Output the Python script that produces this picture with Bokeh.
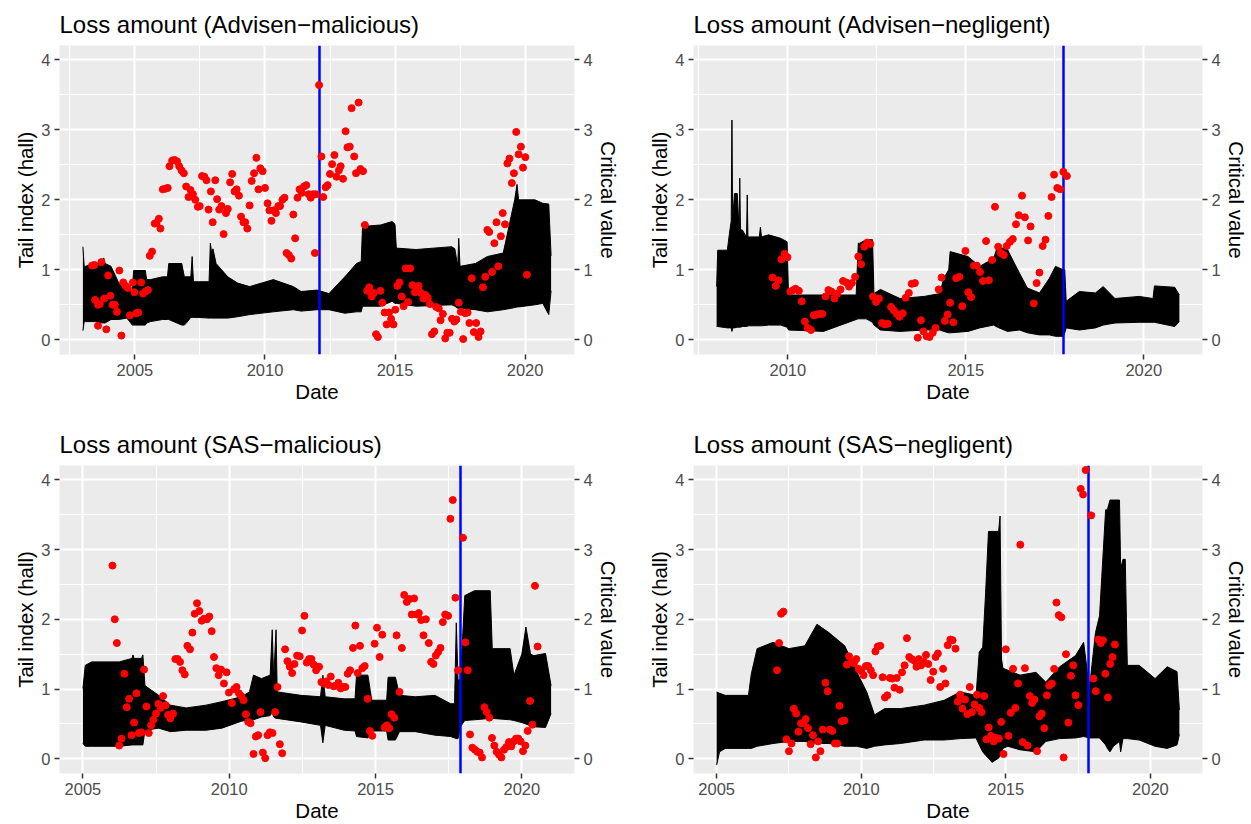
from bokeh.plotting import figure
from bokeh.models import Range1d, FixedTicker, LinearAxis
from bokeh.layouts import column, row
from bokeh.embed import file_html
from bokeh.resources import INLINE

FONT = "Liberation Sans"

titles = ["Loss amount (Advisen\u2212malicious)", "Loss amount (Advisen\u2212negligent)",
          "Loss amount (SAS\u2212malicious)", "Loss amount (SAS\u2212negligent)"]
x_label = "Date"
y_label = "Tail index (hall)"
y2_label = "Critical value"

y_ticks = [0, 1, 2, 3, 4]
y_minor = [0.5, 1.5, 2.5, 3.5]
x_ticks = [2005, 2010, 2015, 2020]
x_minor = [2002.5, 2007.5, 2012.5, 2017.5]

# change points (blue lines)
break_dates = [2012.09, 2017.74, 2017.91, 2017.85]

# ---------------- Panel 1: Advisen-malicious ----------------
band1_date = [2003.0, 2003.05, 2003.1, 2003.47, 2003.75, 2003.8, 2003.85, 2004.08, 2004.38, 2004.69,
              2004.9, 2004.95, 2005.4, 2005.45, 2005.6, 2006.06, 2006.25, 2006.3, 2006.8, 2006.9,
              2007.0, 2007.15, 2007.2, 2007.25, 2007.43, 2007.85, 2007.9, 2007.95, 2008.0, 2008.12,
              2008.57, 2008.95, 2009.41, 2010.32, 2011.09, 2011.39, 2012.0, 2012.46, 2013.07, 2013.52,
              2013.7, 2013.75, 2014.44, 2014.89, 2015.0, 2015.05, 2015.81, 2017.18, 2017.3, 2017.41,
              2017.45, 2017.5, 2018.09, 2018.55, 2019.16, 2019.46, 2019.6, 2019.69, 2019.75, 2020.38,
              2020.68, 2020.91, 2021.0]
band1_high = [1.33, 1.05, 1.05, 1.09, 1.09, 1.17, 1.09, 1.05, 0.81, 0.71,
              0.71, 0.99, 0.99, 0.86, 0.86, 0.90, 0.90, 1.09, 1.09, 0.90,
              0.90, 0.90, 1.19, 0.83, 0.83, 0.83, 1.38, 1.24, 1.30, 1.09,
              0.90, 0.81, 0.76, 0.86, 0.76, 0.69, 0.71, 0.66, 0.90, 1.09,
              1.12, 1.62, 1.64, 1.69, 1.65, 1.31, 1.29, 1.33, 1.30, 1.05,
              1.45, 1.05, 1.09, 1.19, 1.24, 1.76, 2.0, 2.22, 2.0, 2.0,
              1.95, 1.94, 1.2]
band1_low = [0.13, 0.26, 0.26, 0.26, 0.24, 0.24, 0.24, 0.29, 0.29, 0.31,
             0.21, 0.21, 0.21, 0.24, 0.26, 0.29, 0.29, 0.29, 0.21, 0.21,
             0.25, 0.32, 0.32, 0.32, 0.32, 0.31, 0.31, 0.31, 0.31, 0.31,
             0.31, 0.33, 0.36, 0.40, 0.43, 0.41, 0.43, 0.43, 0.38, 0.40,
             0.40, 0.48, 0.48, 0.55, 0.52, 0.52, 0.48, 0.50, 0.48, 0.45,
             0.45, 0.45, 0.43, 0.40, 0.43, 0.45, 0.46, 0.47, 0.47, 0.50,
             0.52, 0.36, 0.70]
hill1_date = [2003.35, 2003.44, 2003.47, 2003.58, 2003.65, 2003.58, 2003.71, 2003.82, 2003.90, 2003.97,
              2004.06, 2004.14, 2004.23, 2004.31, 2004.40, 2004.48, 2004.55, 2004.64, 2004.73, 2004.81,
              2004.92, 2004.98, 2005.05, 2005.13, 2005.24, 2005.31, 2005.40, 2005.50, 2005.57, 2005.66,
              2005.76, 2005.83, 2005.92, 2005.98, 2006.07, 2006.18, 2006.26, 2006.33, 2006.43, 2006.52,
              2006.62, 2006.70, 2006.79, 2006.88, 2006.97, 2007.06, 2007.14, 2007.23, 2007.32, 2007.42,
              2007.49, 2007.58, 2007.67, 2007.75, 2007.83, 2007.92, 2007.99, 2008.09, 2008.16, 2008.24,
              2008.33, 2008.41, 2008.50, 2008.57, 2008.66, 2008.74, 2008.83, 2008.91, 2009.00, 2009.08,
              2009.17, 2009.24, 2009.32, 2009.41, 2009.49, 2009.58, 2009.67, 2009.75, 2009.82, 2009.91,
              2010.00, 2010.10, 2010.17, 2010.25, 2010.34, 2010.42, 2010.51, 2010.58, 2010.67, 2010.75,
              2010.83, 2010.92, 2011.01, 2011.09, 2011.16, 2011.25, 2011.33, 2011.42, 2011.50, 2011.59,
              2011.68, 2011.76, 2011.85, 2011.92, 2011.95, 2012.08, 2012.17, 2012.24, 2012.33, 2012.41,
              2012.50, 2012.58, 2012.67, 2012.75, 2012.84, 2012.91, 2013.00, 2013.10, 2013.17, 2013.26,
              2013.33, 2013.43, 2013.50, 2013.60, 2013.67, 2013.77, 2013.84, 2013.93, 2014.01, 2014.10,
              2014.18, 2014.27, 2014.34, 2014.44, 2014.51, 2014.60, 2014.68, 2014.77, 2014.85, 2014.94,
              2015.01, 2015.09, 2015.17, 2015.26, 2015.33, 2015.41, 2015.50, 2015.58, 2015.67, 2015.76,
              2015.84, 2015.91, 2016.00, 2016.09, 2016.17, 2016.26, 2016.34, 2016.42, 2016.51, 2016.58,
              2016.68, 2016.75, 2016.84, 2016.93, 2017.01, 2017.10, 2017.19, 2017.28, 2017.36, 2017.45,
              2017.53, 2017.62, 2017.70, 2017.79, 2017.86, 2017.95, 2018.03, 2018.12, 2018.21, 2018.29,
              2018.38, 2018.47, 2018.55, 2018.62, 2018.73, 2018.82, 2018.90, 2018.97, 2019.07, 2019.14,
              2019.23, 2019.32, 2019.40, 2019.49, 2019.57, 2019.66, 2019.75, 2019.84, 2019.92, 2020.01,
              2020.07]
hill1_value = [1.06, 1.07, 0.57, 0.50, 0.51, 0.20, 1.11, 0.59, 0.15, 0.92,
               0.63, 0.50, 0.50, 0.40, 0.99, 0.06, 0.82, 0.77, 0.74, 0.35,
               0.82, 0.68, 0.38, 0.39, 0.82, 0.66, 0.69, 0.71, 1.20, 1.26,
               1.66, 1.67, 1.73, 1.59, 2.15, 2.16, 2.17, 2.48, 2.56, 2.57,
               2.55, 2.48, 2.42, 2.38, 2.19, 2.04, 2.14, 2.08, 2.00, 1.90,
               1.91, 2.34, 2.33, 2.28, 1.86, 2.12, 1.68, 2.28, 2.01, 1.86,
               1.91, 1.51, 1.81, 1.87, 2.25, 2.37, 2.12, 2.15, 2.06, 1.76,
               1.68, 1.68, 1.59, 1.92, 2.27, 2.38, 2.60, 2.15, 2.45, 2.41,
               2.17, 1.95, 1.85, 1.70, 1.85, 1.81, 1.91, 1.91, 2.00, 2.03,
               1.24, 1.21, 1.16, 1.79, 1.45, 2.03, 2.15, 2.10, 2.19, 2.21,
               2.08, 2.03, 2.08, 1.24, 2.08, 3.64, 2.62, 2.04, 2.18, 2.21,
               2.37, 2.51, 2.64, 2.33, 2.42, 2.48, 2.30, 2.98, 2.75, 2.76,
               3.31, 2.62, 2.38, 3.39, 2.44, 2.41, 1.64, 0.70, 0.75, 0.62,
               0.67, 0.08, 0.04, 0.70, 0.53, 0.39, 0.22, 0.39, 0.30, 0.22,
               0.43, 0.77, 0.82, 0.62, 0.48, 1.02, 0.54, 1.02, 0.78, 0.68,
               0.73, 0.77, 0.67, 0.59, 0.64, 0.60, 0.51, 0.08, 0.12, 0.47,
               0.45, 0.28, 0.37, 0.02, 0.10, 0.10, 0.30, 0.26, 0.29, 0.53,
               0.40, 0.01, 0.38, 0.39, 0.24, 0.88, 0.11, 0.24, 0.04, 0.12,
               0.75, 0.90, 1.57, 1.54, 0.97, 1.38, 1.68, 1.05, 1.48, 1.81,
               1.65, 2.52, 2.59, 2.24, 2.38, 2.97, 2.65, 2.76, 2.46, 2.61,
               0.93]

# ---------------- Panel 2: Advisen-negligent ----------------
band2_date = [2008.0, 2008.03, 2008.3, 2008.36, 2008.41, 2008.43, 2008.45, 2008.5, 2008.58, 2008.63,
              2008.65, 2008.67, 2008.72, 2008.84, 2008.86, 2008.88, 2008.92, 2009.2, 2009.23, 2009.26,
              2009.46, 2009.8, 2009.98, 2010.02, 2011.0, 2011.92, 2011.98, 2012.02, 2012.2, 2012.38,
              2012.42, 2012.6, 2013.15, 2013.83, 2014.27, 2014.38, 2014.52, 2014.56, 2015.06, 2015.39,
              2015.78, 2015.89, 2016.17, 2016.51, 2016.73, 2017.07, 2017.35, 2017.52, 2017.74, 2017.78,
              2017.82, 2018.19, 2018.64, 2018.86, 2019.19, 2019.87, 2020.26, 2020.3, 2020.87, 2021.0]
band2_high = [0.76, 1.28, 1.28, 1.52, 1.70, 3.14, 1.70, 2.09, 2.09, 1.57,
              2.31, 1.57, 1.57, 1.47, 2.07, 1.47, 1.47, 1.47, 1.61, 1.47,
              1.50, 1.45, 1.40, 0.64, 0.64, 0.64, 1.38, 1.38, 1.43, 1.43,
              0.66, 0.72, 0.59, 0.62, 0.66, 0.88, 1.0, 1.26, 1.19, 1.05,
              1.16, 1.33, 1.29, 0.95, 0.74, 0.67, 0.88, 1.05, 1.0, 1.0,
              0.55, 0.69, 0.67, 0.76, 0.59, 0.62, 0.59, 0.77, 0.75, 0.64]
band2_low = [0.19, 0.19, 0.17, 0.17, 0.17, 0.12, 0.17, 0.17, 0.18, 0.18,
             0.18, 0.18, 0.19, 0.19, 0.19, 0.20, 0.20, 0.20, 0.20, 0.20,
             0.21, 0.21, 0.18, 0.14, 0.12, 0.29, 0.30, 0.30, 0.30, 0.25,
             0.21, 0.14, 0.12, 0.14, 0.14, 0.12, 0.10, 0.10, 0.12, 0.17,
             0.21, 0.18, 0.12, 0.14, 0.10, 0.07, 0.07, 0.05, 0.05, 0.10,
             0.17, 0.14, 0.17, 0.21, 0.24, 0.25, 0.25, 0.25, 0.19, 0.26]
hill2_date = [2009.57, 2009.66, 2009.74, 2009.82, 2009.91, 2009.99, 2010.07, 2010.15, 2010.22, 2010.31,
              2010.39, 2010.48, 2010.56, 2010.65, 2010.73, 2010.81, 2010.89, 2010.97, 2011.06, 2011.14,
              2011.22, 2011.31, 2011.39, 2011.48, 2011.55, 2011.64, 2011.72, 2011.80, 2011.89, 2011.98,
              2012.06, 2012.15, 2012.23, 2012.32, 2012.39, 2012.48, 2012.56, 2012.65, 2012.73, 2012.81,
              2012.90, 2012.98, 2013.06, 2013.14, 2013.23, 2013.31, 2013.40, 2013.48, 2013.57, 2013.65,
              2013.74, 2013.81, 2013.90, 2013.98, 2014.07, 2014.15, 2014.24, 2014.32, 2014.41, 2014.49,
              2014.56, 2014.65, 2014.73, 2014.82, 2014.90, 2014.99, 2015.07, 2015.15, 2015.23, 2015.31,
              2015.40, 2015.48, 2015.57, 2015.65, 2015.74, 2015.82, 2015.91, 2015.98, 2016.07, 2016.15,
              2016.24, 2016.32, 2016.41, 2016.49, 2016.58, 2016.66, 2016.75, 2016.82, 2016.91, 2016.99,
              2017.07, 2017.16, 2017.24, 2017.32, 2017.41, 2017.48, 2017.57, 2017.65, 2017.74, 2017.84]
hill2_value = [0.89, 0.77, 0.85, 1.15, 1.23, 1.18, 0.69, 0.71, 0.73, 0.70,
               0.55, 0.26, 0.17, 0.14, 0.35, 0.36, 0.37, 0.37, 0.62, 0.71,
               0.69, 0.59, 0.66, 0.72, 0.84, 0.82, 0.76, 0.81, 0.90, 1.19,
               1.08, 1.33, 1.39, 1.37, 0.62, 0.54, 0.59, 0.24, 0.22, 0.23,
               0.47, 0.42, 0.37, 0.33, 0.38, 0.60, 0.67, 0.80, 0.81, 0.03,
               0.28, 0.12, 0.05, 0.04, 0.10, 0.17, 0.72, 0.89, 0.27, 0.36,
               0.53, 0.25, 0.88, 0.90, 0.48, 1.27, 0.68, 0.61, 1.06, 1.06,
               0.97, 0.84, 1.41, 0.85, 1.14, 1.90, 1.33, 1.24, 1.21, 1.34,
               1.40, 1.44, 1.65, 1.78, 2.06, 1.75, 1.42, 1.62, 0.52, 0.81,
               0.96, 1.34, 1.43, 1.77, 2.04, 2.36, 2.17, 2.15, 2.40, 2.34]

# ---------------- Panel 3: SAS-malicious ----------------
band3_date = [2005.0, 2005.08, 2005.3, 2006.24, 2006.68, 2006.71, 2006.75, 2007.0, 2007.05, 2007.12,
              2007.59, 2007.99, 2008.53, 2009.21, 2009.75, 2010.42, 2010.69, 2010.83, 2011.1, 2011.4,
              2011.47, 2011.52, 2011.6, 2011.64, 2012.45, 2013.12, 2013.2, 2013.28, 2013.93, 2014.3,
              2014.35, 2014.74, 2014.87, 2015.38, 2015.43, 2015.68, 2015.82, 2016.36, 2017.03, 2017.57,
              2017.7, 2017.76, 2017.82, 2017.9, 2018.05, 2018.38, 2018.92, 2018.99, 2019.6, 2019.73,
              2020.0, 2020.14, 2020.3, 2020.41, 2020.81, 2021.0]
band3_high = [1.01, 1.34, 1.39, 1.39, 1.44, 1.49, 1.44, 1.44, 1.49, 1.05,
              0.91, 0.77, 0.73, 0.77, 0.82, 0.89, 0.96, 1.20, 1.15, 1.20,
              1.85, 1.15, 1.85, 0.96, 0.91, 0.89, 1.20, 0.89, 0.86, 0.86,
              1.20, 1.20, 0.84, 0.84, 1.17, 1.17, 0.91, 0.89, 0.91, 0.79,
              0.79, 1.95, 1.13, 1.13, 2.34, 2.41, 2.41, 1.58, 1.58, 1.20,
              1.50, 1.89, 1.50, 1.48, 1.51, 1.05]
band3_low = [0.22, 0.18, 0.18, 0.18, 0.20, 0.20, 0.20, 0.20, 0.20, 0.41,
             0.44, 0.39, 0.41, 0.41, 0.44, 0.54, 0.56, 0.56, 0.60, 0.62,
             0.67, 0.60, 0.58, 0.58, 0.53, 0.48, 0.23, 0.48, 0.41, 0.40,
             0.32, 0.30, 0.40, 0.40, 0.27, 0.27, 0.39, 0.39, 0.34, 0.32,
             0.30, 0.29, 0.29, 0.46, 0.55, 0.56, 0.58, 0.58, 0.56, 0.55,
             0.52, 0.50, 0.47, 0.46, 0.45, 0.65]
hill3_date = [2006.01, 2006.09, 2006.16, 2006.24, 2006.32, 2006.42, 2006.50, 2006.58, 2006.66, 2006.75,
              2006.83, 2006.91, 2006.99, 2007.09, 2007.17, 2007.25, 2007.33, 2007.41, 2007.50, 2007.58,
              2007.66, 2007.74, 2007.83, 2007.91, 2007.99, 2008.08, 2008.16, 2008.24, 2008.32, 2008.40,
              2008.48, 2008.57, 2008.66, 2008.74, 2008.82, 2008.90, 2008.98, 2009.06, 2009.14, 2009.24,
              2009.32, 2009.40, 2009.48, 2009.56, 2009.64, 2009.72, 2009.82, 2009.91, 2009.99, 2010.09,
              2010.17, 2010.25, 2010.33, 2010.41, 2010.49, 2010.57, 2010.65, 2010.73, 2010.83, 2010.91,
              2010.99, 2011.07, 2011.15, 2011.23, 2011.31, 2011.39, 2011.48, 2011.57, 2011.65, 2011.73,
              2011.81, 2011.91, 2011.99, 2012.07, 2012.15, 2012.23, 2012.32, 2012.41, 2012.49, 2012.57,
              2012.65, 2012.73, 2012.81, 2012.89, 2012.97, 2013.07, 2013.15, 2013.23, 2013.31, 2013.39,
              2013.47, 2013.57, 2013.65, 2013.73, 2013.81, 2013.89, 2013.97, 2014.05, 2014.13, 2014.23,
              2014.31, 2014.39, 2014.47, 2014.55, 2014.63, 2014.73, 2014.81, 2014.89, 2014.97, 2015.05,
              2015.14, 2015.23, 2015.31, 2015.39, 2015.47, 2015.55, 2015.64, 2015.72, 2015.82, 2015.90,
              2015.98, 2016.07, 2016.16, 2016.24, 2016.32, 2016.40, 2016.48, 2016.56, 2016.64, 2016.72,
              2016.82, 2016.90, 2016.98, 2017.06, 2017.14, 2017.22, 2017.30, 2017.38, 2017.48, 2017.56,
              2017.64, 2017.73, 2017.82, 2017.99, 2018.07, 2018.15, 2018.23, 2018.31, 2018.40, 2018.48,
              2018.56, 2018.64, 2018.72, 2018.80, 2018.89, 2018.98, 2019.06, 2019.14, 2019.22, 2019.30,
              2019.39, 2019.47, 2019.56, 2019.64, 2019.72, 2019.80, 2019.88, 2019.96, 2020.04, 2020.12,
              2020.20, 2020.28, 2020.36, 2020.45, 2020.54]
hill3_value = [2.77, 2.00, 1.66, 0.19, 0.29, 1.22, 0.74, 0.86, 0.34, 0.52,
               0.94, 0.37, 0.38, 1.28, 0.75, 0.37, 0.48, 0.56, 0.65, 0.79,
               0.73, 0.90, 0.77, 0.63, 0.58, 0.65, 1.43, 1.43, 1.39, 1.27,
               1.21, 1.62, 1.57, 1.81, 2.08, 2.23, 2.12, 1.98, 2.01, 2.00,
               2.04, 1.83, 1.46, 1.30, 1.20, 1.28, 1.08, 1.24, 0.95, 0.80,
               1.00, 1.03, 0.94, 0.90, 0.84, 0.64, 0.53, 0.51, 0.07, 0.32,
               0.34, 0.67, 0.09, 0.01, 0.34, 0.38, 0.37, 0.67, 1.03, 0.21,
               0.08, 1.57, 1.40, 1.32, 1.23, 1.36, 1.48, 1.47, 1.84, 2.05,
               1.38, 1.43, 1.43, 1.35, 1.27, 1.32, 1.10, 1.08, 1.11, 1.06,
               1.18, 1.04, 1.05, 1.09, 1.01, 1.03, 1.03, 1.22, 1.27, 1.59,
               1.91, 1.23, 1.62, 1.30, 1.33, 0.86, 0.40, 0.33, 1.65, 1.88,
               1.46, 1.78, 0.45, 0.48, 0.44, 0.64, 0.59, 1.77, 0.96, 1.59,
               2.35, 2.25, 2.29, 2.07, 2.30, 2.07, 2.09, 1.99, 1.77, 2.00,
               1.66, 1.39, 1.36, 1.48, 1.53, 1.59, 1.96, 2.07, 2.05, 3.44,
               3.71, 2.31, 1.27, 3.17, 1.67, 1.27, 0.35, 0.16, 0.13, 0.10,
               0.09, 0.02, 0.74, 0.67, 0.59, 0.30, 0.19, 0.10, 0.06, 0.02,
               0.13, 0.17, 0.24, 0.18, 0.25, 0.29, 0.29, 0.25, 0.11, 0.19,
               0.40, 0.83, 0.49, 2.48, 1.61]

# ---------------- Panel 4: SAS-negligent ----------------
band4_date = [2005.0, 2005.1, 2005.3, 2006.1, 2006.2, 2006.4, 2006.95, 2007.5, 2008.05, 2008.47,
              2008.88, 2009.43, 2009.84, 2010.19, 2010.46, 2010.81, 2011.36, 2012.18, 2012.87, 2013.42,
              2013.97, 2014.08, 2014.2, 2014.3, 2014.4, 2014.52, 2014.75, 2014.8, 2014.85, 2014.9,
              2015.07, 2015.49, 2016.04, 2016.38, 2016.86, 2017.41, 2017.69, 2017.89, 2018.1, 2018.24,
              2018.45, 2018.51, 2018.6, 2018.72, 2018.93, 2018.97, 2019.05, 2019.13, 2019.2, 2019.61,
              2020.16, 2020.58, 2020.92, 2021.0]
band4_high = [0.96, 0.94, 0.91, 0.91, 1.22, 1.58, 1.67, 1.58, 1.62, 1.93,
              1.81, 1.62, 1.25, 0.96, 0.63, 0.72, 0.72, 0.77, 0.84, 0.96,
              0.91, 1.53, 1.60, 2.38, 3.26, 3.26, 3.26, 3.48, 1.43, 1.30,
              1.27, 1.20, 1.24, 1.10, 1.32, 1.48, 1.67, 1.01, 1.81, 2.05,
              3.57, 3.57, 3.71, 3.71, 3.71, 2.72, 2.86, 2.86, 1.34, 1.34,
              1.15, 1.32, 1.25, 0.70]
band4_low = [-0.09, 0.10, 0.15, 0.15, 0.15, 0.18, 0.22, 0.25, 0.25, 0.22,
             0.22, 0.18, 0.18, 0.15, 0.18, 0.20, 0.22, 0.27, 0.27, 0.29,
             0.30, 0.20, 0.10, 0.05, 0.01, -0.05, 0.01, 0.05, 0.10, 0.15,
             0.18, 0.13, 0.10, 0.25, 0.29, 0.30, 0.32, 0.30, 0.30, 0.30,
             0.20, 0.15, 0.10, 0.18, 0.25, 0.10, 0.29, 0.29, 0.29, 0.27,
             0.18, 0.15, 0.20, 0.35]
hill4_date = [2007.09, 2007.16, 2007.23, 2007.31, 2007.41, 2007.50, 2007.59, 2007.67, 2007.75, 2007.83,
              2007.92, 2008.01, 2008.08, 2008.16, 2008.25, 2008.33, 2008.43, 2008.51, 2008.59, 2008.67,
              2008.76, 2008.84, 2008.92, 2009.00, 2009.09, 2009.17, 2009.25, 2009.32, 2009.42, 2009.50,
              2009.58, 2009.66, 2009.75, 2009.83, 2009.91, 2010.00, 2010.08, 2010.16, 2010.24, 2010.33,
              2010.41, 2010.49, 2010.57, 2010.66, 2010.74, 2010.82, 2010.90, 2010.99, 2011.07, 2011.15,
              2011.23, 2011.33, 2011.41, 2011.50, 2011.58, 2011.66, 2011.74, 2011.83, 2011.91, 2011.99,
              2012.07, 2012.16, 2012.24, 2012.32, 2012.40, 2012.49, 2012.57, 2012.65, 2012.73, 2012.83,
              2012.91, 2012.99, 2013.08, 2013.16, 2013.26, 2013.34, 2013.42, 2013.50, 2013.59, 2013.67,
              2013.75, 2013.83, 2013.92, 2014.00, 2014.08, 2014.16, 2014.25, 2014.33, 2014.41, 2014.49,
              2014.58, 2014.66, 2014.76, 2014.84, 2014.92, 2015.00, 2015.09, 2015.17, 2015.25, 2015.33,
              2015.42, 2015.50, 2015.58, 2015.66, 2015.75, 2015.83, 2015.91, 2015.99, 2016.08, 2016.16,
              2016.24, 2016.33, 2016.42, 2016.50, 2016.59, 2016.67, 2016.75, 2016.83, 2016.92, 2017.00,
              2017.08, 2017.16, 2017.25, 2017.33, 2017.41, 2017.51, 2017.59, 2017.67, 2017.76, 2017.95,
              2018.03, 2018.11, 2018.20, 2018.28, 2018.36, 2018.44, 2018.53, 2018.61, 2018.69, 2018.77]
hill4_value = [1.27, 1.66, 2.08, 2.11, 0.28, 0.11, 0.22, 0.72, 0.65, 0.39,
               0.51, 0.51, 0.57, 0.44, 0.21, 0.34, 0.02, 0.25, 0.11, 0.42,
               1.09, 0.97, 0.42, 0.40, 0.22, 0.22, 0.76, 0.54, 0.55, 1.35,
               1.47, 1.39, 1.37, 1.43, 1.29, 1.26, 1.20, 1.33, 1.33, 1.27,
               1.20, 1.54, 1.61, 1.62, 1.17, 0.88, 0.91, 1.16, 1.15, 1.02,
               1.16, 0.99, 1.24, 1.34, 1.73, 1.46, 1.43, 1.41, 1.32, 1.43,
               1.34, 1.39, 1.49, 1.36, 1.13, 1.25, 1.46, 1.51, 1.03, 1.29,
               1.08, 1.63, 1.71, 1.70, 1.58, 0.82, 0.92, 0.72, 0.85, 0.64,
               1.03, 0.67, 0.78, 0.92, 0.73, 0.67, 0.90, 0.28, 0.45, 0.33,
               0.25, 0.30, 0.29, 0.53, 0.07, 1.57, 0.33, 0.66, 1.29, 0.73,
               1.08, 3.07, 0.24, 1.30, 0.19, 0.90, 0.80, 0.85, 0.11, 0.61,
               0.65, 0.44, 0.91, 1.05, 1.08, 1.29, 2.24, 2.06, 2.03, 0.02,
               1.50, 0.52, 1.19, 1.34, 0.91, 0.77, 3.87, 3.79, 4.14, 3.49,
               1.15, 0.97, 1.71, 1.66, 1.70, 1.22, 0.88, 1.36, 1.46, 1.64]

x_limits = [(2002.1, 2021.9), (2007.35, 2021.65), (2004.2, 2021.8), (2004.2, 2021.8)]
y_limits = (-0.21, 4.205)


def make_panel(title, xlim, band_x, band_lo, band_hi, px, py, brk,
               width, height, ml, mr, mt, mb):
    p = figure(width=width, height=height, x_range=Range1d(*xlim), y_range=Range1d(*y_limits),
               output_backend="svg", toolbar_location=None, tools="",
               min_border_left=ml, min_border_right=mr, min_border_top=mt, min_border_bottom=mb,
               background_fill_color="#EBEBEB", border_fill_color="white", outline_line_color=None)
    p.title.text = title
    p.title.text_font = FONT
    p.title.text_font_size = "24px"
    p.title.text_font_style = "normal"
    p.title.text_color = "black"
    p.title.align = "left"
    p.title.standoff = 16

    p.varea(x=band_x, y1=band_lo, y2=band_hi, fill_color="black")
    p.line(x=band_x, y=band_hi, line_color="black", line_width=1)
    p.line(x=band_x, y=band_lo, line_color="black", line_width=1)
    p.vspan(x=[brk], line_color="blue", line_width=2.5)
    p.scatter(x=px, y=py, size=7, fill_color="red", line_color="red")

    xt = FixedTicker(ticks=x_ticks, minor_ticks=x_minor)
    yt = FixedTicker(ticks=y_ticks, minor_ticks=y_minor)
    p.xaxis.ticker = xt
    p.yaxis.ticker = yt
    p.xgrid.ticker = xt
    p.ygrid.ticker = yt
    p.xaxis.axis_label = x_label
    p.yaxis.axis_label = y_label

    right = LinearAxis(ticker=FixedTicker(ticks=y_ticks), axis_label=y2_label)
    p.add_layout(right, "right")

    for g in (p.xgrid[0], p.ygrid[0]):
        g.grid_line_color = "white"
        g.grid_line_width = 2
        g.minor_grid_line_color = "white"
        g.minor_grid_line_width = 1

    for ax in p.axis:
        ax.axis_line_color = None
        ax.major_tick_line_color = "#333333"
        ax.major_tick_line_width = 1.5
        ax.major_tick_out = 5
        ax.major_tick_in = 0
        ax.minor_tick_line_color = None
        ax.major_label_text_font = FONT
        ax.major_label_text_font_size = "16.5px"
        ax.major_label_text_color = "#4D4D4D"
        ax.major_label_standoff = 4
        ax.axis_label_text_font = FONT
        ax.axis_label_text_font_size = "20.5px"
        ax.axis_label_text_font_style = "normal"
        ax.axis_label_text_color = "black"
        ax.axis_label_standoff = 1
    return p


p1 = make_panel(titles[0], x_limits[0], band1_date, band1_low, band1_high, hill1_date, hill1_value,
                break_dates[0], 626, 412, 59, 52, 45, 58)
p2 = make_panel(titles[1], x_limits[1], band2_date, band2_low, band2_high, hill2_date, hill2_value,
                break_dates[1], 625, 412, 67, 49, 45, 58)
p3 = make_panel(titles[2], x_limits[2], band3_date, band3_low, band3_high, hill3_date, hill3_value,
                break_dates[2], 626, 412, 53, 52, 53, 50)
p3.min_border_left = 59
p4 = make_panel(titles[3], x_limits[3], band4_date, band4_low, band4_high, hill4_date, hill4_value,
                break_dates[3], 625, 412, 67, 49, 53, 50)

layout = column(row(p1, p2), row(p3, p4))

with open("out.html", "w") as f:
    f.write(file_html(layout, INLINE))
